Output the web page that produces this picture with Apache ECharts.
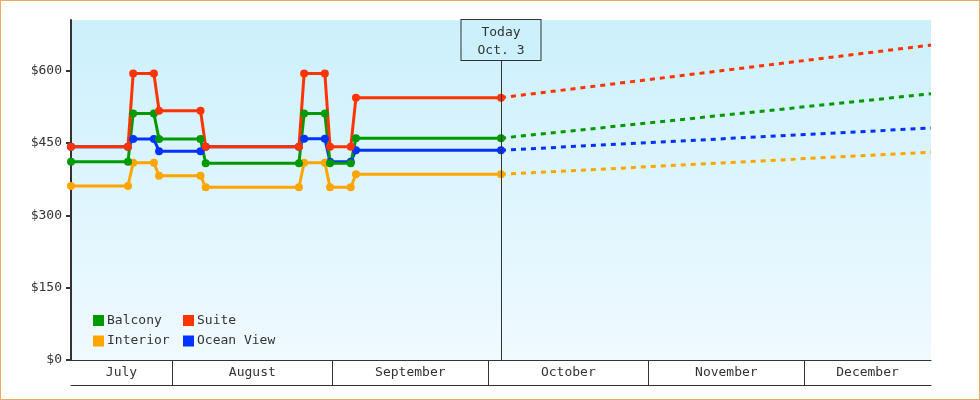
<!DOCTYPE html>
<html>
<head>
<meta charset="utf-8">
<script src="https://cdn.jsdelivr.net/npm/echarts@6/dist/echarts.min.js"></script>
<style>
  html, body { margin: 0; padding: 0; background: #fff; }
  #wrap { position: relative; width: 980px; height: 400px; }
  #chart { position: absolute; left: 0; top: 0; width: 980px; height: 400px; }
  #frame { position: absolute; left: 0; top: 0; width: 980px; height: 400px; box-sizing: border-box; border: 1px solid #e8a860; pointer-events: none; }
</style>
</head>
<body>
<div id="wrap"><div id="chart"></div><div id="frame"></div></div>
<script>
// ---- data ----
const dates = ['07-12','07-23','07-24','07-28','07-29','08-06','08-07','08-25','08-26','08-30','08-31','09-04','09-05','10-03'];
const balcony   = [411, 411, 511, 511, 458, 458, 408, 408, 511, 511, 408, 408, 460, 460];
const interior  = [361, 361, 409, 409, 382, 382, 358, 358, 409, 409, 358, 358, 385, 385];
const suite     = [442, 442, 594, 594, 517, 517, 442, 442, 594, 594, 442, 442, 544, 544];
const oceanView = [442, 442, 458, 458, 433, 433, 442, 442, 459, 459, 411, 411, 435, 435];

const forecastDates = ['10-03', '12-25'];
const balconyForecast   = [460, 552];
const interiorForecast  = [385, 431];
const suiteForecast     = [544, 653];
const oceanViewForecast = [435, 481];

const axisStart = '07-12';
const axisEnd = '12-25';
const today = '10-03';
const todayLabel = ['Today', 'Oct. 3'];

const months = ['July', 'August', 'September', 'October', 'November', 'December'];
const monthNums = [7, 8, 9, 10, 11, 12];
const yTicks = [0, 150, 300, 450, 600];
const yMax = 705;

const names = ['Balcony', 'Interior', 'Suite', 'Ocean View'];
const colors = { 'Balcony': '#009900', 'Interior': '#ffa500', 'Suite': '#ff3300', 'Ocean View': '#0033ff' };

// ---- helpers ----
const monthOffset = { 7: 0, 8: 31, 9: 62, 10: 92, 11: 123, 12: 153, 13: 184 };
function dayNum(md) { // days since Jul 1, at noon
  const [m, d] = md.split('-').map(Number);
  return monthOffset[m] + (d - 1) + 0.5;
}
const xMin = dayNum(axisStart), xMax = dayNum(axisEnd);
const monthStarts = monthNums.map(m => monthOffset[m]).filter(v => v > xMin && v < xMax);
const monthMids = monthNums.map(m => (Math.max(monthOffset[m], xMin) + Math.min(monthOffset[m + 1], xMax)) / 2);
function monthName(v) {
  for (let i = 0; i < monthMids.length; i++) if (Math.abs(monthMids[i] - v) < 0.01) return months[i];
  return '';
}

const FONT = 'DejaVu Sans Mono';
const TXT = '#333';

function solid(name, vals, extra) {
  return Object.assign({
    name, type: 'line', xAxisIndex: 0,
    data: dates.map((d, i) => [dayNum(d), vals[i]]),
    color: colors[name],
    lineStyle: { width: 3, color: colors[name] },
    itemStyle: { color: colors[name] },
    symbol: 'circle', symbolSize: 8, showSymbol: true,
    emphasis: { disabled: true }, silent: true, z: 3
  }, extra || {});
}
function dashed(name, vals, extra) {
  return Object.assign({
    name, type: 'line', xAxisIndex: 0,
    data: forecastDates.map((d, i) => [dayNum(d), vals[i]]),
    color: colors[name],
    lineStyle: { width: 3, type: [5, 5], color: colors[name] },
    showSymbol: false, symbol: 'none',
    emphasis: { disabled: true }, silent: true, z: 2
  }, extra || {});
}

const chart = echarts.init(document.getElementById('chart'), null, { renderer: 'canvas' });
chart.setOption({
  animation: false,
  backgroundColor: '#ffffff',
  textStyle: { fontFamily: FONT },
  grid: {
    left: 71, right: 49, top: 20, bottom: 40,
    show: true, borderWidth: 0,
    backgroundColor: { type: 'linear', x: 0, y: 0, x2: 0, y2: 1,
      colorStops: [{ offset: 0, color: '#ccf0fc' }, { offset: 1, color: '#f0faff' }] }
  },
  legend: [
    { data: ['Balcony', 'Interior'], orient: 'vertical', left: 93, top: 314, padding: 0,
      itemWidth: 11, itemHeight: 11, itemGap: 7.5, icon: 'rect', selectedMode: false,
      textStyle: { fontFamily: FONT, fontSize: 13, color: TXT, lineHeight: 13, padding: [0, 0, 0, -2] } },
    { data: ['Suite', 'Ocean View'], orient: 'vertical', left: 183, top: 314, padding: 0,
      itemWidth: 11, itemHeight: 11, itemGap: 7.5, icon: 'rect', selectedMode: false,
      textStyle: { fontFamily: FONT, fontSize: 13, color: TXT, lineHeight: 13, padding: [0, 0, 0, -2] } }
  ],
  xAxis: [
    { type: 'value', min: xMin, max: xMax, position: 'bottom',
      axisLine: { show: true, lineStyle: { color: TXT, width: 1 } },
      axisTick: { show: true, inside: false, length: 25, lineStyle: { color: TXT, width: 1 }, customValues: monthStarts },
      axisLabel: { show: true, margin: 6, customValues: monthMids, formatter: v => monthName(v),
        fontFamily: FONT, fontSize: 13, color: TXT },
      splitLine: { show: false } },
    { type: 'value', min: xMin, max: xMax, position: 'bottom', offset: 25,
      axisLine: { show: true, lineStyle: { color: TXT, width: 1 } },
      axisTick: { show: false }, axisLabel: { show: false }, splitLine: { show: false } }
  ],
  yAxis: {
    type: 'value', min: 0, max: yMax,
    axisLine: { show: true, lineStyle: { color: TXT, width: 2 } },
    axisTick: { show: true, length: 5, lineStyle: { color: TXT, width: 2 }, customValues: yTicks },
    axisLabel: { margin: 9, customValues: yTicks, formatter: v => '$' + v, fontFamily: FONT, fontSize: 13, color: TXT },
    splitLine: { show: false }
  },
  series: [
    dashed('Ocean View', oceanViewForecast),
    dashed('Interior', interiorForecast),
    dashed('Balcony', balconyForecast),
    dashed('Suite', suiteForecast, {
      markLine: {
        silent: true, symbol: ['none', 'none'], animation: false,
        lineStyle: { color: TXT, width: 1, type: 'solid' },
        label: {
          show: true, position: 'end', distance: -40,
          formatter: todayLabel.join('\n'),
          fontFamily: FONT, fontSize: 13, color: TXT, lineHeight: 18,
          backgroundColor: '#ccf0fc', borderColor: TXT, borderWidth: 1,
          padding: [4, 0, 0, 0], width: 79, height: 36, align: 'center'
        },
        emphasis: { disabled: true },
        data: [{ xAxis: dayNum(today) }]
      }
    }),
    solid('Ocean View', oceanView),
    solid('Interior', interior),
    solid('Balcony', balcony),
    solid('Suite', suite)
  ]
});
</script>
</body>
</html>
